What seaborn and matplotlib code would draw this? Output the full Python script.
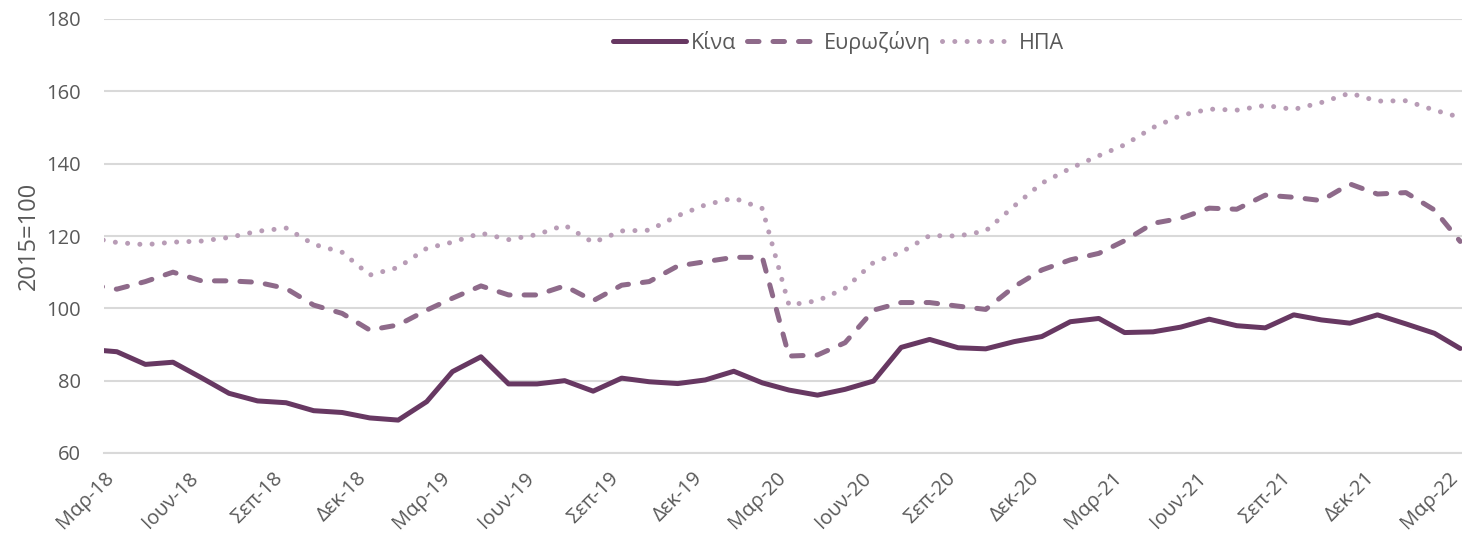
import numpy as np
import pandas as pd
import matplotlib
matplotlib.use("Agg")
import matplotlib.pyplot as plt
import seaborn as sns

# ---- data (monthly, mid-month observations, Feb-18 .. Mar-22) ----
start_month = "2018-02-01"
n_months = 50
china = [88.6,
         88.0, 84.5, 85.1, 80.8, 76.5, 74.4, 73.9, 71.7, 71.2, 69.7,
         69.1, 74.2, 82.5, 86.6, 79.1, 79.1, 80.0, 77.1, 80.7, 79.7, 79.2, 80.2,
         82.6, 79.4, 77.4, 76.0, 77.6, 79.9, 89.2, 91.4, 89.1, 88.8, 90.8, 92.2,
         96.3, 97.2, 93.3, 93.5, 94.8, 97.0, 95.2, 94.6, 98.2, 96.8, 95.9, 98.2,
         95.7, 93.1, 88.9]
eurozone = [106.5,
            105.3, 107.4, 110.0, 107.6, 107.6, 107.2, 105.5, 100.9, 98.6, 94.0,
            95.4, 99.5, 102.8, 106.2, 103.7, 103.7, 106.2, 102.1, 106.4, 107.4, 111.7, 112.9,
            114.1, 114.1, 86.8, 87.1, 90.5, 99.5, 101.6, 101.6, 100.6, 99.7, 106.0, 110.6,
            113.4, 115.2, 118.7, 123.5, 124.9, 127.7, 127.4, 131.3, 130.7, 129.8, 134.4, 131.6,
            132.0, 127.2, 118.5]
usa = [119.5,
       118.2, 117.6, 118.3, 118.6, 119.6, 121.3, 122.2, 117.7, 115.5, 109.2,
       111.3, 116.6, 118.3, 120.8, 119.0, 120.4, 123.0, 118.2, 121.4, 121.6, 125.6, 128.6,
       130.5, 127.6, 100.9, 102.1, 105.5, 112.7, 115.5, 120.1, 120.0, 121.4, 128.3, 134.6,
       138.7, 142.2, 145.2, 150.0, 153.3, 155.1, 154.8, 156.1, 155.0, 156.9, 159.5, 157.3,
       157.4, 154.8, 152.8]
series_names = ["Κίνα", "Ευρωζώνη", "ΗΠΑ"]
greek_months = {3: "Μαρ", 6: "Ιουν", 9: "Σεπ", 12: "Δεκ"}
y_ticks = [60, 80, 100, 120, 140, 160, 180]
y_label = "2015=100"

dates = pd.date_range(start_month, periods=n_months, freq="MS") + pd.Timedelta(days=14)
df = pd.DataFrame({"date": dates, series_names[0]: china,
                   series_names[1]: eurozone, series_names[2]: usa})
long = df.melt(id_vars="date", var_name="series", value_name="value")

# ---- style ----
sns.set_theme(style="white")
plt.rcParams["font.family"] = ["Open Sans", "DejaVu Sans"]
text_col = "#595959"
grid_col = "#D9D9D9"
colors = {"Κίνα": "#673862", "Ευρωζώνη": "#8E6A8A", "ΗΠΑ": "#B89CB6"}
fs = 14.5

fig = plt.figure(figsize=(14.62, 5.39), dpi=100)
ax = fig.add_axes([104 / 1462, 1 - 453 / 539, 1 - 104 / 1462, (453 - 19) / 539])

lw = 3.6
sns.lineplot(data=long, x="date", y="value", hue="series", palette=colors,
             ax=ax, linewidth=lw, legend=False)

dash_styles = {"Κίνα": None, "Ευρωζώνη": (2.3, 2.8), "ΗΠΑ": (0.01, 2.45)}
for line, name in zip(ax.get_lines(), series_names):
    line.set_solid_capstyle("round")
    line.set_dash_capstyle("round")
    line.set_solid_joinstyle("round")
    if dash_styles[name] is not None:
        line.set_dashes(dash_styles[name])
    line.set_label(name)

tick_dates = pd.date_range("2018-03-01", "2022-03-01", freq="3MS")
ax.set_xticks(tick_dates)
ax.set_xticklabels([f"{greek_months[d.month]}-{d.strftime('%y')}" for d in tick_dates],
                   rotation=45, ha="right", rotation_mode="anchor",
                   fontsize=fs, color=text_col)
ax.set_xlim(pd.Timestamp("2018-03-01"), pd.Timestamp("2022-03-17"))
ax.set_ylim(60, 180)
ax.set_yticks(y_ticks)
ax.set_yticklabels([str(v) for v in y_ticks], fontsize=fs, color=text_col)
ax.tick_params(axis="y", length=0, pad=16.5)
ax.tick_params(axis="x", length=8, width=1.5, color=grid_col, pad=3, direction="out")
ax.grid(axis="y", color=grid_col, linewidth=1.5)
ax.set_axisbelow(True)
for s in ["top", "right", "left"]:
    ax.spines[s].set_visible(False)
ax.spines["bottom"].set_color(grid_col)
ax.spines["bottom"].set_linewidth(1.5)
ax.set_xlabel("")
ax.set_ylabel(y_label, fontsize=17, color=text_col, labelpad=4)

leg = ax.legend(loc="center", bbox_to_anchor=(0.541, 0.947), ncol=3, frameon=False,
                fontsize=15.5, handlelength=3.4, handletextpad=0.2, columnspacing=0.5,
                labelcolor=text_col)

fig.savefig("out.png", dpi=100)
